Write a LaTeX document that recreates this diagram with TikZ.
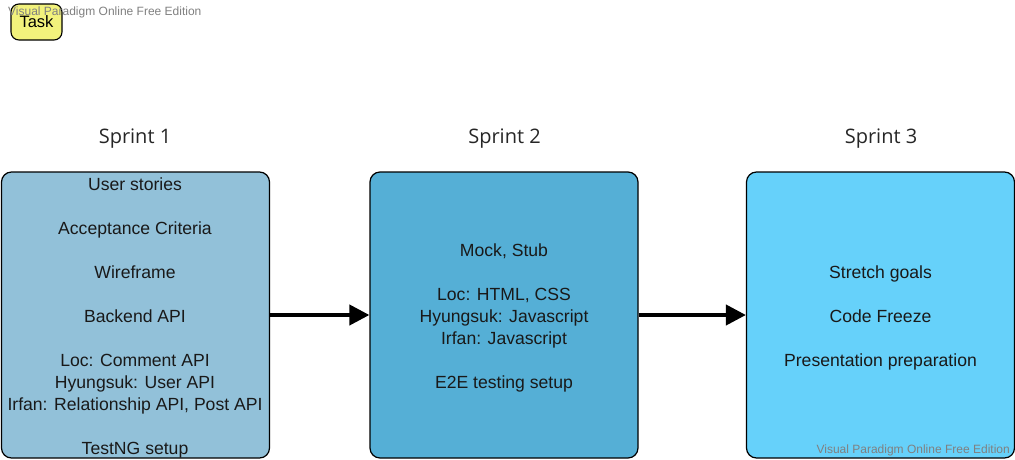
\documentclass[tikz,border=0pt]{standalone}
\usepackage{fontspec}
\setmainfont{Liberation Sans}
\newfontfamily\titlefont{Open Sans}
\usetikzlibrary{arrows.meta}
\definecolor{boxa}{RGB}{146,193,217}
\definecolor{boxb}{RGB}{85,175,214}
\definecolor{boxc}{RGB}{102,209,250}
\definecolor{taskyel}{RGB}{242,242,124}
\definecolor{wmgray}{RGB}{128,128,128}
\tikzset{
  sprintbox/.style={draw=black, line width=1.2pt, rounded corners=10pt,
    minimum width=268pt, minimum height=286pt, inner sep=0pt},
  boxtext/.style={align=center, font=\fontsize{17.6}{22}\selectfont, text=black!90},
  sprinttitle/.style={font=\titlefont\fontsize{20}{22}\selectfont, text=black!85},
  flowarrow/.style={line width=4pt, -{Triangle[length=20pt,width=20pt]}},
  watermark/.style={font=\fontsize{12}{14}\selectfont, text=wmgray, inner sep=0pt}
}
\begin{document}
\begin{tikzpicture}[x=1pt,y=-1pt]
\useasboundingbox (0,0) rectangle (1015,459);
\node[draw=black, line width=1.1pt, fill=taskyel, rounded corners=8pt,
  minimum width=51pt, minimum height=36pt, inner sep=0pt,
  font=\fontsize{16.5}{18}\selectfont] (task) at (36.5,22) {Task};
\node[watermark, anchor=west] (wm1) at (8,12) {Visual Paradigm Online Free Edition};

\node[sprinttitle] (t1) at (135,139) {Sprint 1};
\node[sprinttitle] (t2) at (504.5,139) {Sprint 2};
\node[sprinttitle] (t3) at (881,139) {Sprint 3};

\node[sprintbox, fill=boxa] (b1) at (135.5,315) {};
\node[sprintbox, fill=boxb] (b2) at (504,315) {};
\node[sprintbox, fill=boxc] (b3) at (880.5,315) {};

\node[boxtext] (x1) at (135,318) {User stories\\[22pt]Acceptance Criteria\\[22pt]Wireframe\\[22pt]Backend API\\[22pt]Loc: Comment API\\Hyungsuk: User API\\Irfan: Relationship API, Post API\\[22pt]TestNG setup};
\node[boxtext] (x2) at (504,318) {Mock, Stub\\[22pt]Loc: HTML, CSS\\Hyungsuk: Javascript\\Irfan: Javascript\\[22pt]E2E testing setup};
\node[boxtext] (x3) at (880.5,318) {Stretch goals\\[22pt]Code Freeze\\[22pt]Presentation preparation};

\node[watermark, anchor=east] (wm2) at (1010,450) {Visual Paradigm Online Free Edition};

\draw[flowarrow] (b1.east) -- (b2.west);
\draw[flowarrow] (b2.east) -- (b3.west);
\end{tikzpicture}
\end{document}
